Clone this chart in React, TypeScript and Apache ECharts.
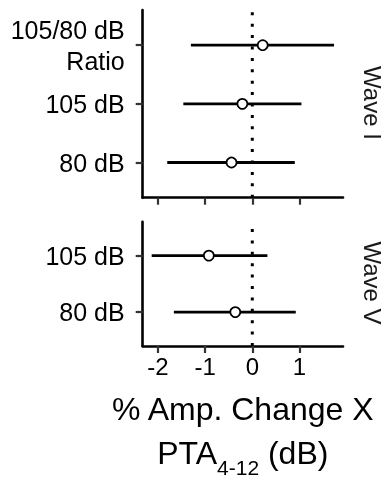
import React, { useEffect, useRef } from 'react';
import * as echarts from 'echarts';

// ---- data ----
const waveILabels = ['80 dB', '105 dB', '105/80 dB\nRatio'];
const waveIEst = [-0.44, -0.21, 0.22];
const waveILo = [-1.8, -1.46, -1.3];
const waveIHi = [0.9, 1.04, 1.73];

const waveVLabels = ['80 dB', '105 dB'];
const waveVEst = [-0.36, -0.92];
const waveVLo = [-1.66, -2.13];
const waveVHi = [0.92, 0.32];

const xTicks = [-2, -1, 0, 1];
const xMin = -2.32;
const xMax = 1.92;
const stripLabels = ['Wave I', 'Wave V'];
const xTitleLine1 = '% Amp. Change X';
const xTitleMain = 'PTA';
const xTitleSub = '4-12';
const xTitleTail = ' (dB)';

const FONT = '"Liberation Sans", Arial, Helvetica, sans-serif';

const renderItem = (params: any, api: any) => {
  const y = api.value(0);
  const est = api.value(1);
  const lo = api.value(2);
  const hi = api.value(3);
  const p0 = api.coord([lo, y]);
  const p1 = api.coord([hi, y]);
  const pc = api.coord([est, y]);
  return {
    type: 'group',
    children: [
      {
        type: 'line',
        shape: { x1: p0[0], y1: p0[1], x2: p1[0], y2: p1[1] },
        style: { stroke: '#000', lineWidth: 2.8 },
      },
      {
        type: 'circle',
        shape: { cx: pc[0], cy: pc[1], r: 5 },
        style: { fill: '#fff', stroke: '#000', lineWidth: 1.7 },
      },
    ],
  };
};

const makeX = (gridIndex: number, showLabels: boolean) => ({
  type: 'value',
  gridIndex,
  min: xMin,
  max: xMax,
  axisLine: { show: true, onZero: false, lineStyle: { color: '#000', width: 2.6 } },
  axisTick: { show: true, customValues: xTicks, length: 7, lineStyle: { color: '#333', width: 2.2 } },
  axisLabel: {
    show: showLabels,
    customValues: xTicks,
    fontSize: 24,
    fontFamily: FONT,
    color: '#000',
    margin: 8,
  },
  splitLine: { show: false },
});

const makeY = (gridIndex: number, labels: string[]) => ({
  type: 'value',
  gridIndex,
  min: -0.6,
  max: labels.length - 1 + 0.6,
  axisLine: { show: true, onZero: false, lineStyle: { color: '#000', width: 2.6 } },
  axisTick: {
    show: true,
    customValues: labels.map((_, i) => i),
    length: 7,
    lineStyle: { color: '#333', width: 2.2 },
  },
  axisLabel: {
    show: true,
    customValues: labels.map((_, i) => i),
    formatter: (v: number) => labels[Math.round(v)] ?? '',
    fontSize: 25,
    lineHeight: 31,
    fontFamily: FONT,
    color: '#000',
    align: 'right',
    margin: 18,
  },
  splitLine: { show: false },
});

const toRows = (est: number[], lo: number[], hi: number[]) =>
  est.map((e, i) => [i, e, lo[i], hi[i]]);

const zeroLine = (idx: number, n: number) => ({
  type: 'line',
  xAxisIndex: idx,
  yAxisIndex: idx,
  data: [
    [0, -0.6],
    [0, n - 1 + 0.6],
  ],
  symbol: 'none',
  silent: true,
  z: 1,
  lineStyle: { color: '#000', width: 3, type: [3, 8.4], cap: 'butt' },
});

export default function App() {
  const ref = useRef<HTMLDivElement>(null);
  useEffect(() => {
    if (!ref.current) return;
    const chart = echarts.init(ref.current, undefined, { renderer: 'svg' });
    const left = 142.7;
    const right = 343;
    chart.setOption({
      animation: false,
      textStyle: { fontFamily: FONT },
      grid: [
        { left, top: 10, width: right - left, height: 187.7 },
        { left, top: 221.7, width: right - left, height: 124.3 },
      ],
      xAxis: [makeX(0, false), makeX(1, true)],
      yAxis: [makeY(0, waveILabels), makeY(1, waveVLabels)],
      series: [
        zeroLine(0, waveILabels.length),
        zeroLine(1, waveVLabels.length),
        {
          type: 'custom',
          xAxisIndex: 0,
          yAxisIndex: 0,
          renderItem,
          encode: { x: [1, 2, 3], y: 0 },
          data: toRows(waveIEst, waveILo, waveIHi),
          z: 2,
        },
        {
          type: 'custom',
          xAxisIndex: 1,
          yAxisIndex: 1,
          renderItem,
          encode: { x: [1, 2, 3], y: 0 },
          data: toRows(waveVEst, waveVLo, waveVHi),
          z: 2,
        },
      ],
      graphic: [
        {
          type: 'text',
          x: 372,
          y: 103,
          rotation: -Math.PI / 2,
          style: {
            text: stripLabels[0],
            font: `24px ${FONT}`,
            fill: '#1a1a1a',
            align: 'center',
            verticalAlign: 'middle',
          },
        },
        {
          type: 'text',
          x: 372,
          y: 283,
          rotation: -Math.PI / 2,
          style: {
            text: stripLabels[1],
            font: `24px ${FONT}`,
            fill: '#1a1a1a',
            align: 'center',
            verticalAlign: 'middle',
          },
        },
        {
          type: 'text',
          x: 242.8,
          y: 409,
          style: {
            text: xTitleLine1,
            font: `32px ${FONT}`,
            fill: '#000',
            align: 'center',
            verticalAlign: 'middle',
          },
        },
        {
          type: 'text',
          x: 242.8,
          y: 453,
          style: {
            text: `{a|${xTitleMain}}{s|${xTitleSub}}{a|${xTitleTail}}`,
            align: 'center',
            verticalAlign: 'middle',
            fill: '#000',
            rich: {
              a: { fontSize: 32, fontFamily: FONT, lineHeight: 36, fill: '#000', color: '#000' },
              s: {
                fontSize: 21,
                fontFamily: FONT,
                lineHeight: 21,
                padding: [28, 0, 0, 0],
                fill: '#000',
                color: '#000',
              },
            },
          },
        },
      ],
    });
    return () => chart.dispose();
  }, []);
  return (
    <div
      ref={ref}
      style={{ position: 'fixed', left: 0, top: 0, width: 385, height: 486 }}
    />
  );
}
